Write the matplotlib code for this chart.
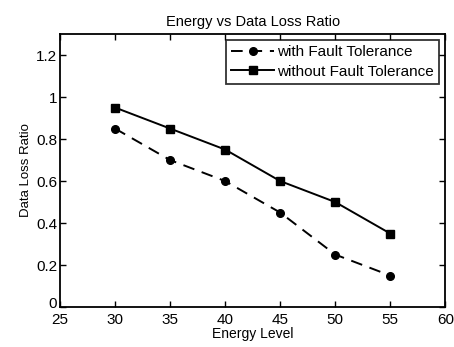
import matplotlib
matplotlib.use("Agg")
import matplotlib.pyplot as plt
import matplotlib.transforms as mtrans

energy = [30, 35, 40, 45, 50, 55]
with_ft = [0.85, 0.70, 0.60, 0.45, 0.25, 0.15]
without_ft = [0.95, 0.85, 0.75, 0.60, 0.50, 0.35]
xticks = [25, 30, 35, 40, 45, 50, 55, 60]
yticks = [0, 0.2, 0.4, 0.6, 0.8, 1, 1.2]
yticklabels = ["0", "0.2", "0.4", "0.6", "0.8", "1", "1.2"]

plt.rcParams['font.family'] = ['Liberation Sans', 'DejaVu Sans']

fig = plt.figure(figsize=(4.54, 3.47), dpi=100)
ax = fig.add_axes([0.132, 0.115, 0.849, 0.787])

ax.plot(energy, with_ft, color='black', linestyle=(0, (6, 4)), linewidth=1.4,
        marker='o', markersize=5.5, label='with Fault Tolerance')
ax.plot(energy, without_ft, color='black', linestyle='-', linewidth=1.4,
        marker='s', markersize=5.5, label='without Fault Tolerance')

ax.set_xlim(25, 60)
ax.set_ylim(0, 1.3)
ax.set_xticks(xticks)
ax.set_yticks(yticks)
ax.set_yticklabels(yticklabels)
ax.tick_params(direction='in', top=True, right=True, labelsize=11, length=4, width=1)
ax.tick_params(axis='y', pad=2)
ax.tick_params(axis='x', pad=4)
for s in ax.spines.values():
    s.set_linewidth(1.3)

# nudge the "0" y label up a little so it does not collide with "25"
zero_lbl = ax.get_yticklabels()[0]
zero_lbl.set_transform(zero_lbl.get_transform() +
                       mtrans.ScaledTranslation(0, 3 / 72, fig.dpi_scale_trans))

ax.set_title('Energy vs Data Loss Ratio', fontsize=10.5, pad=6)
ax.set_xlabel('Energy Level', fontsize=10, labelpad=0)
ax.set_ylabel('Data Loss Ratio', fontsize=9.5, labelpad=3)

leg = ax.legend(loc='upper right', fontsize=11, frameon=True, fancybox=False,
                edgecolor='black', borderaxespad=0.4, handlelength=2.8,
                borderpad=0.35, labelspacing=0.35, handletextpad=0.2)
leg.get_frame().set_linewidth(1.3)

fig.savefig('out.png', dpi=100)
